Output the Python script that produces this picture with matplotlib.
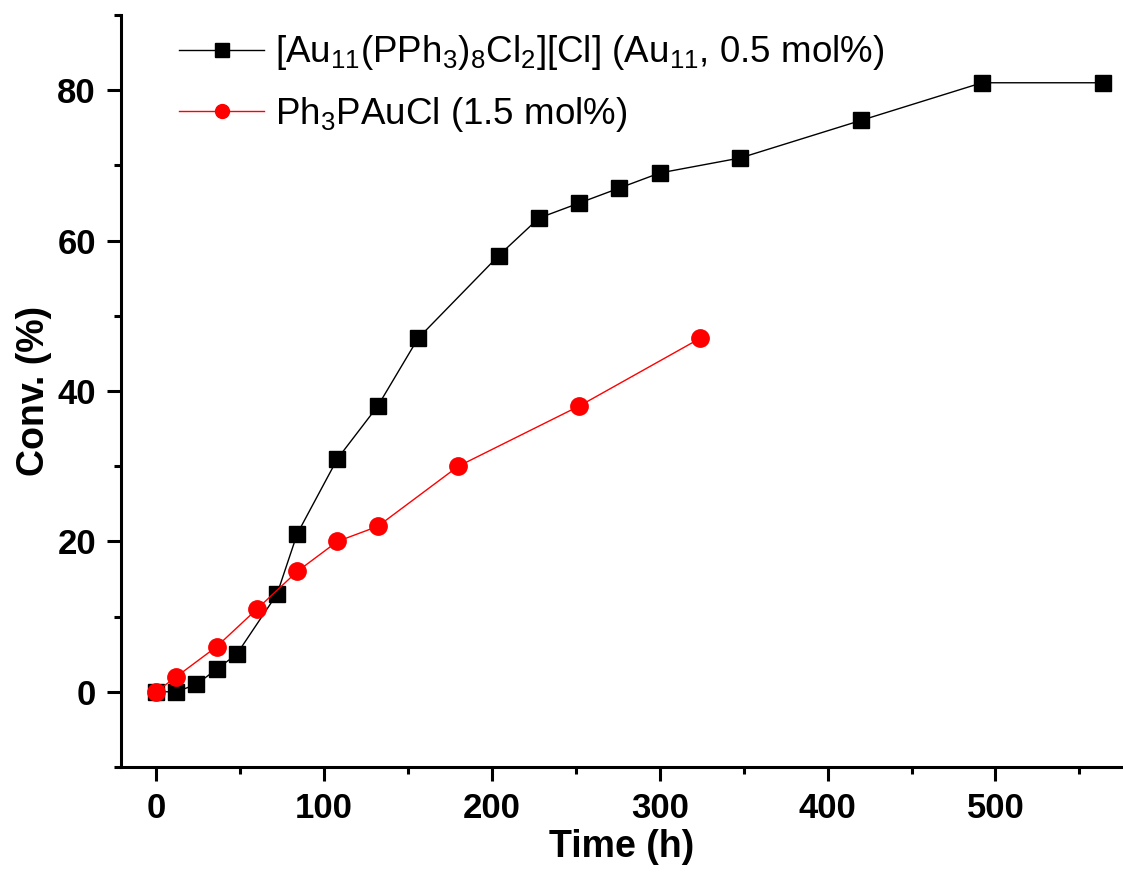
import matplotlib
matplotlib.use("Agg")
import matplotlib.pyplot as plt
from matplotlib.ticker import MultipleLocator

plt.rcParams["font.family"] = ["Liberation Sans", "DejaVu Sans"]
plt.rcParams["mathtext.fontset"] = "custom"
plt.rcParams["mathtext.rm"] = "Liberation Sans"

# Au11 cluster catalyst
t_au11 = [0, 12, 24, 36, 48, 72, 84, 108, 132, 156, 204, 228, 252, 276, 300, 348, 420, 492, 564]
conv_au11 = [0, 0, 1, 3, 5, 13, 21, 31, 38, 47, 58, 63, 65, 67, 69, 71, 76, 81, 81]

# Ph3PAuCl reference catalyst
t_ph3 = [0, 12, 36, 60, 84, 108, 132, 180, 252, 324]
conv_ph3 = [0, 2, 6, 11, 16, 20, 22, 30, 38, 47]

label_au11 = r"[Au$_{\mathregular{11}}$(PPh$_{\mathregular{3}}$)$_{\mathregular{8}}$Cl$_{\mathregular{2}}$][Cl] (Au$_{\mathregular{11}}$, 0.5 mol%)"
label_ph3 = r"Ph$_{\mathregular{3}}$PAuCl (1.5 mol%)"

fig = plt.figure(figsize=(11.23, 8.88), dpi=100)
ax = fig.add_axes([0.1077, 0.1363, 0.8923, 0.8467])

ax.plot(t_au11, conv_au11, color="black", lw=1.0, marker="s", ms=12,
        label=label_au11)
ax.plot(t_ph3, conv_ph3, color="red", lw=1.0, marker="o", ms=12.5,
        label=label_ph3)

ax.set_xlim(-21, 576)
ax.set_ylim(-10, 90)
ax.xaxis.set_major_locator(MultipleLocator(100))
ax.xaxis.set_minor_locator(MultipleLocator(50))
ax.yaxis.set_major_locator(MultipleLocator(20))
ax.yaxis.set_minor_locator(MultipleLocator(10))

for side in ("top", "right"):
    ax.spines[side].set_visible(False)
for side in ("left", "bottom"):
    ax.spines[side].set_linewidth(2.2)

ax.tick_params(which="major", direction="out", length=10, width=2.2,
               labelsize=25, pad=8)
ax.tick_params(which="minor", direction="out", length=5, width=2.2)
for lbl in ax.get_xticklabels() + ax.get_yticklabels():
    lbl.set_fontweight("bold")

ax.set_xlabel("Time (h)", fontsize=27, fontweight="bold", labelpad=3)
ax.set_ylabel("Conv. (%)", fontsize=27, fontweight="bold", labelpad=4)

ax.legend(loc="upper left", bbox_to_anchor=(0.04, 1.0), frameon=False,
          fontsize=26.5, handlelength=2.3, handletextpad=0.3,
          labelspacing=0.6, markerscale=0.8, borderpad=0)

fig.savefig("out.png", dpi=100)
